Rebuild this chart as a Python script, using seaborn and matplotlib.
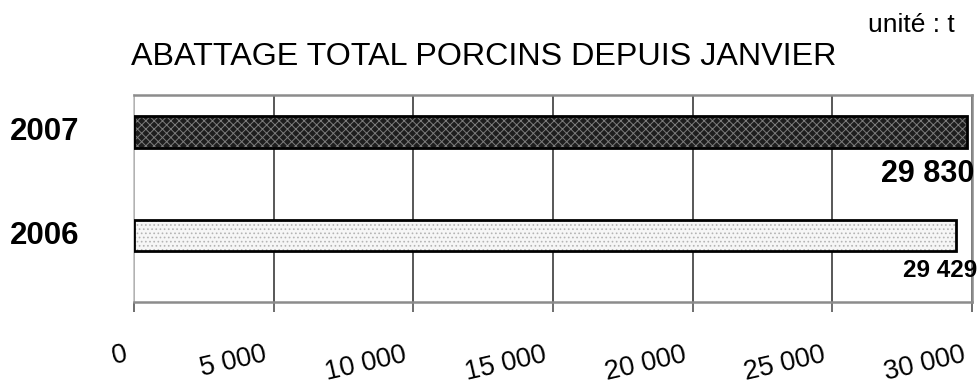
import matplotlib
matplotlib.use("Agg")
import matplotlib.pyplot as plt
import matplotlib.transforms as mtransforms
import seaborn as sns
import pandas as pd

years = ["2007", "2006"]
values = [29830, 29429]
value_labels = ["29 830", "29 429"]
tick_values = [0, 5000, 10000, 15000, 20000, 25000, 30000]
tick_labels = ["0", "5 000", "10 000", "15 000", "20 000", "25 000", "30 000"]
title = "ABATTAGE TOTAL PORCINS DEPUIS JANVIER"
unit = "unité : t"

sns.set_theme(style="white")
plt.rcParams["font.family"] = ["Liberation Sans", "DejaVu Sans"]
plt.rcParams["hatch.linewidth"] = 0.7
plt.rcParams["text.color"] = "black"
plt.rcParams["xtick.color"] = "black"
plt.rcParams["axes.labelcolor"] = "black"

df = pd.DataFrame({"year": years, "value": values})

fig = plt.figure(figsize=(9.78, 3.9), dpi=100)
ax = fig.add_axes([134 / 978, 1 - 302 / 390, (972 - 134) / 978, (302 - 95) / 390])

# layer 1: hatched fills
sns.barplot(data=df, y="year", x="value", order=years, orient="h", width=0.30,
            ax=ax, errorbar=None, linewidth=0, zorder=3)
faces = ["#1e1e1e", "#f6f6f6"]
hatch_cols = ["#7c7c7c", "#b4b4b4"]
hatches = ["xxxx", "...."]
for p, fc, hc, h in zip(ax.patches, faces, hatch_cols, hatches):
    p.set_facecolor(fc)
    p.set_edgecolor(hc)
    p.set_hatch(h)
    p.set_linewidth(0)

n_fill = len(ax.patches)
# layer 2: black outlines
sns.barplot(data=df, y="year", x="value", order=years, orient="h", width=0.30,
            ax=ax, errorbar=None, zorder=4)
for p in ax.patches[n_fill:]:
    p.set_facecolor("none")
    p.set_edgecolor("black")
    p.set_linewidth(2)

ax.set_xlim(0, 30000)
ax.set_ylim(1.642, -0.357)
ax.set_xlabel("")
ax.set_ylabel("")
ax.set_yticks([])

ax.set_xticks(tick_values)
ax.set_xticklabels(tick_labels, fontsize=19.5)
ax.tick_params(axis="x", direction="out", length=7.5, width=1.2, color="#555555",
               pad=21, labelcolor="black", bottom=True)
offset = mtransforms.ScaledTranslation(-10 / 100, 0, fig.dpi_scale_trans)
for lab in ax.get_xticklabels():
    lab.set_rotation(13)
    lab.set_ha("right")
    lab.set_rotation_mode("anchor")
    lab.set_transform(lab.get_transform() + offset)

ax.grid(axis="x", color="#4a4a4a", linewidth=1.3, zorder=0)
ax.grid(axis="y", visible=False)
for side in ["top", "right", "bottom", "left"]:
    ax.spines[side].set_visible(True)
    ax.spines[side].set_color("#8c8c8c")
    ax.spines[side].set_linewidth(1.8)
ax.spines["left"].set_color("#c4c4c4")
ax.spines["left"].set_linewidth(1.2)

# year labels
for i, y in enumerate(years):
    ax.annotate(y, xy=(0, i), xytext=(-89, -8.5),
                textcoords="offset pixels", ha="center", va="baseline",
                fontsize=22.5, fontweight="bold", annotation_clip=False)

# value labels
offsets = [(7, -50), (21, -41)]
sizes = [22, 17.5]
for i, (v, lbl) in enumerate(zip(values, value_labels)):
    ax.annotate(lbl, xy=(v, i), xytext=offsets[i], textcoords="offset pixels",
                ha="right", va="baseline", fontsize=sizes[i], fontweight="bold",
                annotation_clip=False, zorder=5)

fig.text(483.5 / 978, 1 - 65 / 390, title, ha="center", va="baseline", fontsize=23.2)
fig.text(911.5 / 978, 1 - 31.5 / 390, unit, ha="center", va="baseline", fontsize=19)

fig.savefig("out.png", dpi=100)
